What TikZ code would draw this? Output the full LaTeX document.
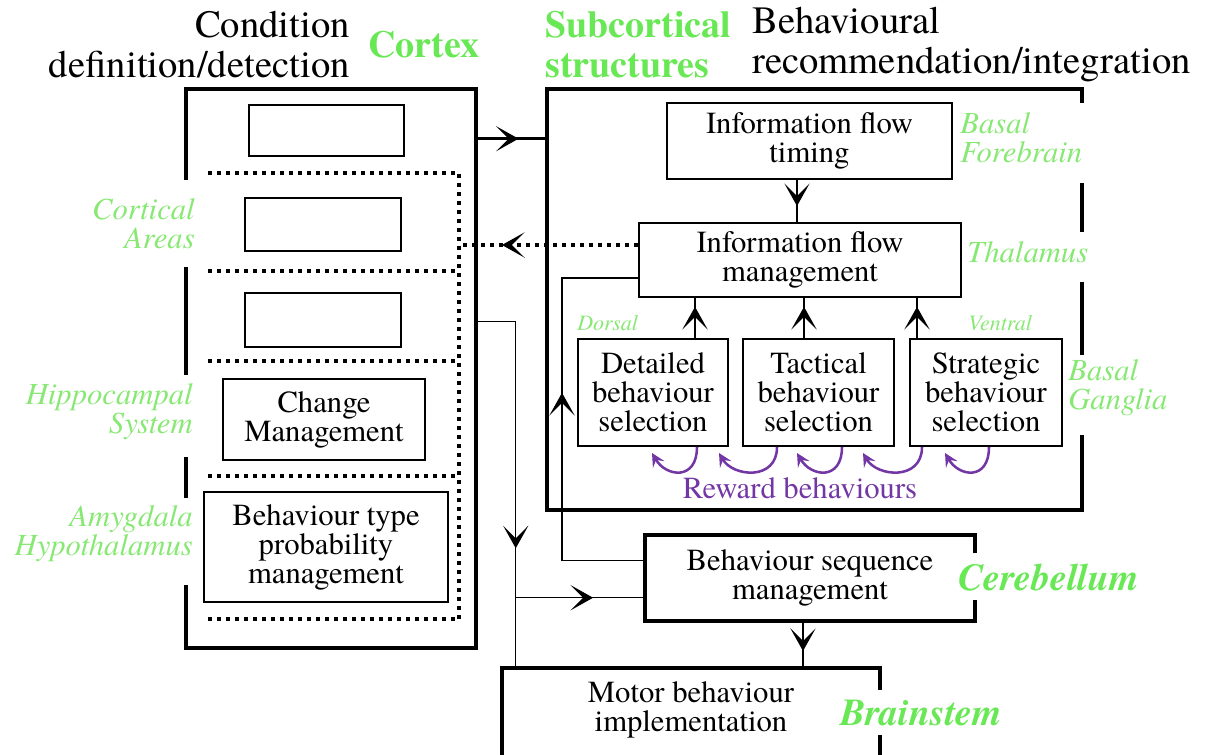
\documentclass[tikz,border=0pt]{standalone}
\usepackage{fontspec}
\setmainfont{TeX Gyre Termes}
\usetikzlibrary{arrows.meta,decorations.markings,calc}
\definecolor{lgreen}{RGB}{135,232,115}
\definecolor{bgreen}{RGB}{105,232,85}
\definecolor{rpurple}{RGB}{115,55,165}
\newcommand\fbody{\fontsize{23}{21.75}\selectfont}
\newcommand\fhead{\fontsize{29}{30}\selectfont}
\newcommand\fheadb{\fontsize{28.5}{30}\selectfont}
\newcommand\fsmall{\fontsize{16.5}{16.5}\selectfont}
\newcommand\fbig{\fontsize{28.5}{28.5}\selectfont}
\tikzset{
  headtip/.tip={Stealth[length=17pt,width=19pt,inset=9.5pt]},
  purpletip/.tip={Stealth[length=10pt,width=10pt,inset=4pt]},
}
\begin{document}
\begin{tikzpicture}[x=0.75pt,y=-0.75pt,
  bx/.style 2 args={minimum width=#1*0.75pt,minimum height=#2*0.75pt,inner sep=0pt},
  box/.style={draw,line width=1.5pt,inner sep=0pt,align=center,font=\fbody},
  frame/.style={line width=3.2pt,line join=miter,line cap=butt},
  conn/.style={line width=1.1pt},
  dots/.style={line width=2.8pt,dash pattern=on 2.8pt off 3.95pt},
  lab/.style={font=\fbody\itshape,text=lgreen,inner sep=0pt},
  arrowat/.style={postaction={decorate},decoration={markings,mark=at position #1 with {\arrow{headtip}}}},
  loopar/.style={rpurple,line width=1.9pt,-{purpletip}},
]
\useasboundingbox (0,0) rectangle (1209,755);

% header
\node[font=\fhead,align=right,anchor=east,inner sep=0pt] (hcond) at (350,45) {Condition\\definition/detection};
\node[font=\fheadb\bfseries,text=bgreen,inner sep=0pt] (hcortex) at (424,45) {Cortex};
\node[font=\fheadb\bfseries,text=bgreen,align=left,anchor=west,inner sep=0pt] (hsub) at (545,45) {Subcortical\\structures};
\node[font=\fhead,align=left,anchor=west,inner sep=0pt] (hbeh) at (752,45) {Behavioural\\recommendation/integration};

% cortex frame
\node[bx={290}{559}] (cortex) at (331,368.5) {};
\draw[frame] (186,180) -- (186,89) -- (476,89) -- (476,648) -- (186,648) -- (186,585);
\draw[frame] (186,498) -- (186,457);
\draw[frame] (186,375) -- (186,267);

% dotted separators
\draw[dots] (208,173) -- (459,173) -- (459,620);
\foreach \yy in {271,361,476,619} \draw[dots] (208,\yy) -- (459,\yy);

% cortex boxes
\node[box,bx={155}{51}] (e1) at (326.5,130.5) {};
\node[box,bx={156}{53}] (e2) at (323,224.5) {};
\node[box,bx={156}{54}] (e3) at (323,320) {};
\node[box,bx={202}{81}] (chg) at (324,419.5) {Change\\Management};
\node[box,bx={244}{110}] (btp) at (326,547) {Behaviour type\\probability\\management};

% cortex labels
\node[lab,align=right,anchor=east] (lca) at (195,224) {Cortical\\Areas};
\node[lab,align=right,anchor=east] (lhs) at (193,412) {Hippocampal\\System};
\node[lab,align=right,anchor=east] (lah) at (193,534) {Amygdala\\Hypothalamus};

% subcortical frame
\node[bx={535}{421}] (sub) at (814.5,299.5) {};
\draw[frame] (1082,103) -- (1082,89) -- (547,89) -- (547,510) -- (1082,510) -- (1082,435);
\draw[frame] (1082,355) -- (1082,282);
\draw[frame] (1082,232) -- (1082,183);

\node[box,bx={285}{76}] (timing) at (809.5,141) {Information flow\\timing};
\node[box,bx={322}{74}] (mgmt) at (800,260) {Information flow\\management};
\node[box,bx={150}{107}] (det) at (653,392.5) {Detailed\\behaviour\\selection};
\node[box,bx={151}{107}] (tac) at (818.5,392.5) {Tactical\\behaviour\\selection};
\node[box,bx={152}{107}] (str) at (986,392.5) {Strategic\\behaviour\\selection};

\node[lab,align=left,anchor=west] (lbf) at (960,138) {Basal\\Forebrain};
\node[lab,anchor=west] (lth) at (967,252) {Thalamus};
\node[lab,align=left,anchor=west] (lbg) at (1068,388) {Basal\\Ganglia};
\node[lab,font=\fsmall\itshape,anchor=west] (ldo) at (577,323) {Dorsal};
\node[lab,font=\fsmall\itshape,anchor=west] (lve) at (968,323) {Ventral};

% cerebellum
\node[bx={330}{86},align=center,font=\fbody] (cereb) at (810,578) {Behaviour sequence\\management};
\draw[frame] (975,553) -- (975,535) -- (645,535) -- (645,621) -- (975,621) -- (975,600);
\node[font=\fbig\bfseries\itshape,text=bgreen,anchor=west,inner sep=0pt] (lcer) at (958,578) {Cerebellum};

% motor
\node[bx={378}{84},align=center,font=\fbody] (motor) at (691,710) {Motor behaviour\\implementation};
\draw[frame] (880,690) -- (880,668) -- (502,668) -- (502,765);
\draw[frame] (880,735) -- (880,765);
\node[font=\fbig\bfseries\itshape,text=bgreen,anchor=west,inner sep=0pt] (lbs) at (840,713) {Brainstem};

% connectors
\coordinate (a1) at ($(cortex.north east)+(0,50)$);
\draw[line width=2.4pt,arrowat=0.6] (a1) -- (a1 -| sub.west);

\coordinate (dv) at (459,245);
\draw[dots,arrowat=0.76] (dv -| mgmt.west) -- (dv);

\coordinate (t1) at ($(timing.south)+(-12.5,0)$);
\draw[conn,arrowat=0.62] (t1) -- (t1 |- mgmt.north);

\coordinate (u1) at ($(det.north)+(42,0)$);
\coordinate (u2) at ($(tac.north)+(-14.5,0)$);
\coordinate (u3) at ($(str.north)+(-69,0)$);
\draw[conn,arrowat=0.78] (u1) -- (u1 |- mgmt.south);
\draw[conn,arrowat=0.78] (u2) -- (u2 |- mgmt.south);
\draw[conn,arrowat=0.78] (u3) -- (u3 |- mgmt.south);

\coordinate (p1) at ($(cereb.north west)+(0,26)$);
\coordinate (p2) at ($(mgmt.south west)+(0,-20)$);
\draw[conn,arrowat=188pt] (p1) -| ($(p2)+(-76,0)$) -- (p2);

\coordinate (q1) at ($(cortex.north east)+(0,233)$);
\coordinate (q2) at ($(motor.north west)+(14,0)$);
\draw[conn,arrowat=199.5pt] (q1) -| (q2);
\coordinate (br) at ($(q2)+(0,-70)$);
\draw[conn,arrowat=0.6] (br) -- (br -| cereb.west);

\coordinate (m1) at ($(cereb.south)+(-7,0)$);
\draw[conn,arrowat=0.64] (m1) -- (m1 |- motor.north);

% reward loops
\draw[loopar] ($(det.south)+(44,0)$) .. controls +(0,34) and +(14,24) .. (652,453);
\draw[loopar] ($(tac.south)+(-41.5,0)$) .. controls +(0,34) and +(14,24) .. (719,453);
\draw[loopar] ($(tac.south)+(23.5,0)$) .. controls +(0,34) and +(14,24) .. (797,453);
\draw[loopar] ($(str.south)+(-64,0)$) .. controls +(0,34) and +(14,24) .. (863,453);
\draw[loopar] ($(str.south)+(3,0)$) .. controls +(0,34) and +(14,24) .. (945,453);
\node[font=\fbody,text=rpurple,inner sep=0pt] (rew) at (800,488) {Reward behaviours};
\end{tikzpicture}
\end{document}
